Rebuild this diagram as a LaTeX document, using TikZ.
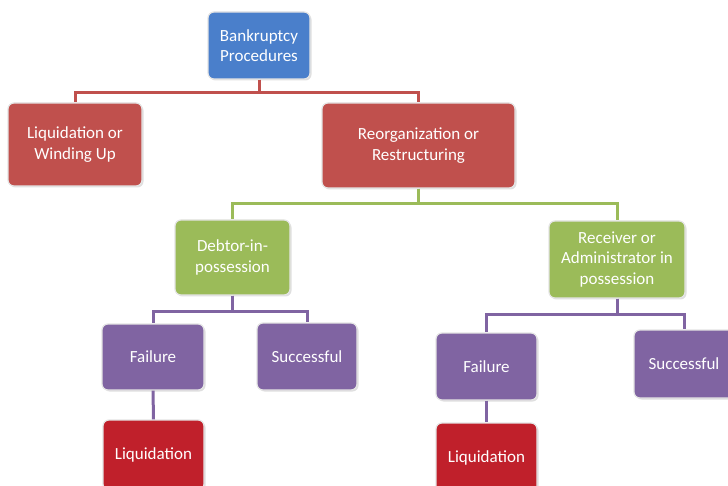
\documentclass[tikz,border=0pt]{standalone}
\usepackage{fontspec}
\setmainfont{Carlito}
\usetikzlibrary{shadows}
\definecolor{cblue}{HTML}{4A7FCB}
\definecolor{cred}{HTML}{C0504D}
\definecolor{cgreen}{HTML}{9BBB59}
\definecolor{cpurple}{HTML}{8064A2}
\definecolor{cdred}{HTML}{C0202B}
\definecolor{cedge}{HTML}{E4E4E4}
\tikzset{
  box/.style={draw=cedge, line width=1.2pt, rounded corners=6pt, text=white,
    align=center, inner sep=0pt, font=\fontsize{17}{20.5}\selectfont,
    drop shadow={shadow xshift=1.5pt, shadow yshift=-1.5pt, opacity=0.25}},
  conn/.style={line width=3pt},
}
\begin{document}
\begin{tikzpicture}[x=1pt,y=-1pt]
\useasboundingbox (0,0) rectangle (728,486);
\clip (0,0) rectangle (728,486);
% nodes
\node[box, fill=cblue, minimum width=102pt, minimum height=67pt] (bp) at (259,45.5) {Bankruptcy\\Procedures};
\node[box, fill=cred, minimum width=134pt, minimum height=83pt] (liq) at (75,144.5) {Liquidation or\\Winding Up};
\node[box, fill=cred, minimum width=193pt, minimum height=85pt] (reo) at (418.5,145.5) {Reorganization or\\Restructuring};
\node[box, fill=cgreen, minimum width=115pt, minimum height=75pt] (dip) at (232.5,257.5) {Debtor-in-\\possession};
\node[box, fill=cgreen, minimum width=136pt, minimum height=77pt] (rap) at (617,259.5) {Receiver or\\Administrator in\\possession};
\node[box, fill=cpurple, minimum width=102pt, minimum height=66pt] (fl) at (153,357) {Failure};
\node[box, fill=cpurple, minimum width=100pt, minimum height=67pt] (sl) at (307,356.5) {Successful};
\node[box, fill=cdred, minimum width=101pt, minimum height=70pt] (ql) at (153.5,455) {Liquidation};
\node[box, fill=cpurple, minimum width=101pt, minimum height=67pt] (fr) at (486.5,366.5) {Failure};
\node[box, fill=cpurple, minimum width=100pt, minimum height=68pt] (sr) at (684,364) {Successful};
\node[box, fill=cdred, minimum width=101pt, minimum height=70pt] (qr) at (486.5,458) {Liquidation};
% connectors
\draw[conn, cred] (bp.south) -- ++(0,13) -| (liq.north);
\draw[conn, cred] (bp.south) -- ++(0,13) -| (reo.north);
\draw[conn, cgreen] (reo.south) -- ++(0,15) -| (dip.north);
\draw[conn, cgreen] (reo.south) -- ++(0,15) -| (rap.north);
\draw[conn, cpurple] (dip.south) -- ++(0,16) -| (fl.north);
\draw[conn, cpurple] (dip.south) -- ++(0,16) -| (sl.north);
\draw[conn, cpurple] (fl.south) -- (ql.north);
\draw[conn, cpurple] (rap.south) -- ++(0,16) -| (fr.north);
\draw[conn, cpurple] (rap.south) -- ++(0,16) -| (sr.north);
\draw[conn, cpurple] (fr.south) -- (qr.north);
\end{tikzpicture}
\end{document}
